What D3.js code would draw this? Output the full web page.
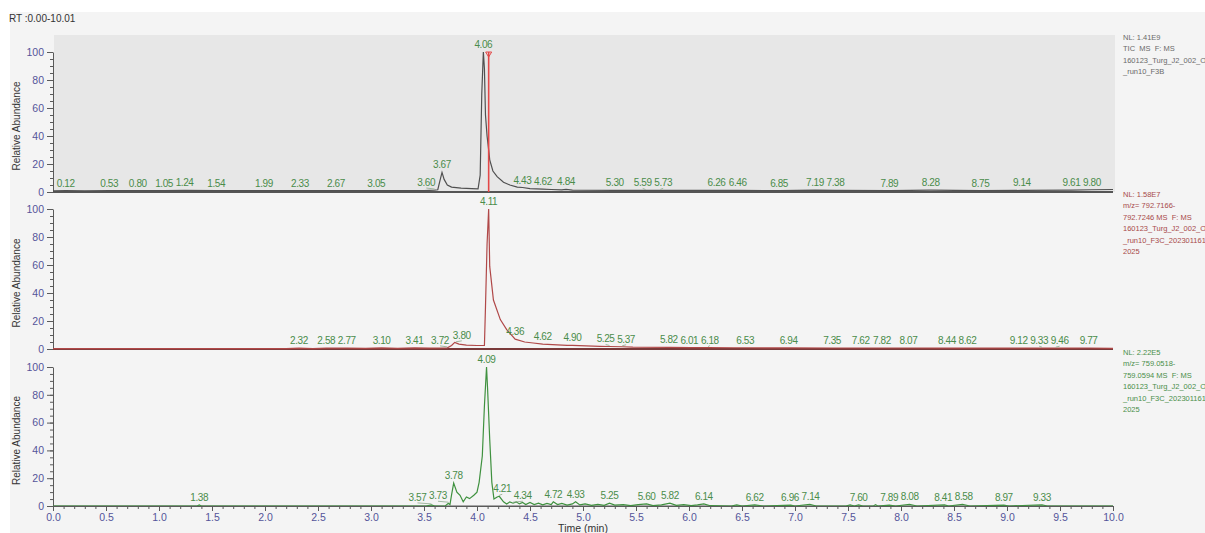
<!DOCTYPE html>
<html>
<head>
<meta charset="utf-8">
<script src="https://cdn.jsdelivr.net/npm/d3@7"></script>
<style>
  html, body { margin: 0; padding: 0; background: #ffffff; }
  svg { display: block; font-family: "Liberation Sans", Arial, sans-serif; }
</style>
</head>
<body>
<svg id="chart" width="1205" height="533"></svg>
<script>
// Retention-time range and axis ticks
const rtRange = [0, 10];
const xMajorTicks = d3.range(0, 10.001, 0.5);
const xMinorTicks = d3.range(0, 10.001, 0.1);
const yMajorTicks = [0, 20, 40, 60, 80, 100];
const yMinorTicks = d3.range(0, 100.001, 5);

// TIC trace: [retention time (min), relative abundance (%)]
const ticTrace = [
  [0.00, 0.8], [0.12, 1.0], [0.30, 0.8], [0.53, 1.0], [0.80, 1.0], [1.05, 1.0],
  [1.24, 1.2], [1.54, 1.0], [1.99, 1.0], [2.33, 1.0], [2.67, 1.0], [3.05, 1.0],
  [3.50, 1.0], [3.60, 1.4], [3.63, 1.6], [3.65, 8.0], [3.67, 14.0], [3.69, 9.0],
  [3.72, 5.0], [3.76, 3.5], [3.85, 2.8], [3.95, 2.4], [4.01, 2.2], [4.03, 12.0],
  [4.045, 70.0], [4.06, 100.0], [4.07, 88.0], [4.08, 55.0], [4.095, 40.0],
  [4.11, 30.0], [4.12, 23.0], [4.15, 15.0], [4.19, 11.0], [4.25, 7.0], [4.31, 5.0],
  [4.38, 3.5], [4.43, 3.2], [4.50, 2.4], [4.62, 2.0], [4.70, 1.8], [4.80, 1.5],
  [4.84, 1.9], [4.90, 1.3], [5.30, 1.2], [5.59, 1.1], [5.73, 1.2], [6.26, 1.1],
  [6.46, 1.1], [6.85, 1.0], [7.19, 1.3], [7.38, 1.1], [7.89, 1.0], [8.28, 1.3],
  [8.75, 1.0], [9.14, 1.1], [9.61, 1.3], [9.80, 1.6], [10.00, 1.8]
];
const ticPeaks = [0.12, 0.53, 0.80, 1.05, 1.24, 1.54, 1.99, 2.33, 2.67, 3.05, 3.60,
  3.67, 4.06, 4.43, 4.62, 4.84, 5.30, 5.59, 5.73, 6.26, 6.46, 6.85, 7.19, 7.38,
  7.89, 8.28, 8.75, 9.14, 9.61, 9.80];
const ticMarkerRt = 4.11;

// m/z 792.7166-792.7246 extracted ion chromatogram
const xic792Trace = [
  [0.00, 0.2], [2.20, 0.2], [2.32, 0.6], [2.45, 0.3], [2.58, 0.6], [2.77, 0.6],
  [2.95, 0.4], [3.10, 0.8], [3.25, 0.5], [3.41, 0.8], [3.55, 0.6], [3.72, 0.8],
  [3.76, 2.5], [3.79, 4.7], [3.83, 3.5], [3.90, 2.8], [4.00, 2.5], [4.07, 2.5],
  [4.08, 30.0], [4.095, 75.0], [4.11, 100.0], [4.12, 59.0], [4.155, 35.0],
  [4.22, 21.0], [4.28, 13.8], [4.36, 7.0], [4.45, 5.0], [4.53, 4.3], [4.62, 3.5],
  [4.85, 2.6], [4.90, 2.6], [5.16, 1.9], [5.25, 1.8], [5.37, 1.6], [5.47, 1.3],
  [5.82, 1.1], [6.01, 1.0], [6.18, 1.0], [6.42, 0.9], [6.53, 0.9], [6.94, 0.8],
  [7.35, 0.7], [7.62, 0.7], [7.82, 0.7], [8.07, 0.7], [8.44, 0.6], [8.62, 0.6],
  [9.12, 0.6], [9.33, 0.6], [9.46, 0.6], [9.77, 0.7], [10.00, 0.5]
];
const xic792Peaks = [2.32, 2.58, 2.77, 3.10, 3.41, 3.72, 3.80, 4.11, 4.36, 4.62,
  4.90, 5.25, 5.37, 5.82, 6.01, 6.18, 6.53, 6.94, 7.35, 7.62, 7.82, 8.07, 8.44,
  8.62, 9.12, 9.33, 9.46, 9.77];

// m/z 759.0518-759.0594 extracted ion chromatogram
const xic759Trace = [
  [0.00, 0.0], [1.36, 0.0], [1.38, 0.8], [1.40, 0.0], [3.52, 0.0], [3.57, 0.8],
  [3.60, 0.0], [3.70, 0.0], [3.73, 2.0], [3.745, 1.0], [3.76, 8.0], [3.78, 16.5],
  [3.81, 10.0], [3.84, 7.7], [3.87, 3.0],
  [3.90, 6.5], [3.93, 5.3], [3.97, 7.7], [4.00, 10.0], [4.02, 17.0], [4.05, 36.0],
  [4.07, 72.0], [4.09, 100.0], [4.10, 84.0], [4.12, 48.0], [4.14, 17.0],
  [4.16, 5.0], [4.19, 6.5], [4.21, 7.0], [4.25, 3.0], [4.28, 1.5], [4.31, 3.0],
  [4.34, 2.0], [4.37, 3.0], [4.40, 1.5], [4.43, 2.5], [4.46, 1.0], [4.50, 2.5],
  [4.54, 1.0], [4.58, 2.0], [4.62, 0.8], [4.66, 1.8], [4.70, 1.0], [4.72, 3.0],
  [4.76, 1.0], [4.80, 1.8], [4.85, 0.6], [4.90, 1.5], [4.93, 3.0], [4.97, 0.8],
  [5.02, 1.5], [5.08, 0.5], [5.14, 1.2], [5.20, 0.5], [5.25, 2.0], [5.30, 0.6],
  [5.38, 1.0], [5.45, 0.3], [5.52, 1.0], [5.60, 1.5], [5.66, 0.3], [5.74, 0.8],
  [5.82, 2.0], [5.88, 0.5], [5.95, 1.0], [6.02, 0.3], [6.08, 0.8], [6.14, 1.5],
  [6.20, 0.2], [6.40, 0.0], [6.45, 0.8], [6.50, 0.0], [6.62, 0.8], [6.70, 0.0],
  [6.96, 0.6], [7.00, 0.0], [7.14, 1.2], [7.20, 0.0], [7.48, 0.0], [7.52, 0.8],
  [7.56, 0.0], [7.60, 0.8], [7.64, 0.0], [7.74, 0.0], [7.76, 1.0], [7.78, 0.0],
  [7.89, 0.6], [7.95, 0.0], [8.08, 1.2], [8.15, 0.0], [8.41, 0.8], [8.45, 0.0],
  [8.58, 1.2], [8.65, 0.0], [8.97, 0.6], [9.02, 0.0], [9.33, 0.8], [9.38, 0.0],
  [10.00, 0.0]
];
const xic759Peaks = [1.38, 3.57, 3.73, 3.78, 4.09, 4.21, 4.34, 4.72, 4.93, 5.25,
  5.60, 5.82, 6.14, 6.62, 6.96, 7.14, 7.60, 7.89, 8.08, 8.41, 8.58, 8.97, 9.33];

// Header lines shown to the right of each trace
const ticInfo = ["NL: 1.41E9", "TIC  MS  F: MS", "160123_Turg_J2_002_O1", "_run10_F3B"];
const xic792Info = ["NL: 1.58E7", "m/z= 792.7166-", "792.7246 MS  F: MS",
  "160123_Turg_J2_002_O1", "_run10_F3C_20230116160", "2025"];
const xic759Info = ["NL: 2.22E5", "m/z= 759.0518-", "759.0594 MS  F: MS",
  "160123_Turg_J2_002_O1", "_run10_F3C_20230116160", "2025"];

const svg = d3.select("#chart");
const W = 1205, H = 533;

// page backdrop
svg.append("rect").attr("x", 10).attr("y", 12).attr("width", W - 10).attr("height", H - 12)
  .attr("fill", "#f4f4f4");

svg.append("text").attr("x", 9).attr("y", 22).attr("font-size", 10)
  .attr("fill", "#333").text("RT :0.00-10.01");

const x = d3.scaleLinear().domain(rtRange).range([53, 1113]);

const panels = [
  { trace: ticTrace, peaks: ticPeaks, info: ticInfo, top: 52, bottom: 192,
    color: "#505050", infoColor: "#6a6a6a", infoY: 37, shade: true, marker: ticMarkerRt },
  { trace: xic792Trace, peaks: xic792Peaks, info: xic792Info, top: 209, bottom: 349,
    color: "#b04848", infoColor: "#a84a4a", infoY: 194, shade: false },
  { trace: xic759Trace, peaks: xic759Peaks, info: xic759Info, top: 367, bottom: 506,
    color: "#3f913f", infoColor: "#4a8f4a", infoY: 352, shade: false }
];

function valueAt(trace, rt) {
  for (let i = 1; i < trace.length; i++) {
    const a = trace[i - 1], b = trace[i];
    if (rt >= a[0] && rt <= b[0]) {
      const t = b[0] === a[0] ? 0 : (rt - a[0]) / (b[0] - a[0]);
      return a[1] + t * (b[1] - a[1]);
    }
  }
  return 0;
}

// Spread labels sideways so neighbours on the same row do not collide,
// and keep each label clear of taller peaks rising through its row
function spreadLabels(items, width, gap, clearance, xmin, xmax) {
  items.forEach(d => { d.lx = d.px; });
  const half = width / 2;
  for (let iter = 0; iter < 400; iter++) {
    let moved = false;
    for (let i = 0; i < items.length; i++) {
      for (let j = i + 1; j < items.length; j++) {
        const a = items[i], b = items[j];
        if (Math.abs(a.ly - b.ly) >= 10) continue;
        const left = a.lx <= b.lx ? a : b, right = left === a ? b : a;
        const need = width + gap - (right.lx - left.lx);
        if (need > 0.05) {
          left.lx -= need / 2;
          right.lx += need / 2;
          moved = true;
        }
      }
    }
    items.forEach(a => {
      items.forEach(b => {
        if (a === b || b.py >= a.ly) return;
        if (Math.abs(a.lx - b.px) < half + clearance - 0.05) {
          a.lx = a.px < b.px ? b.px - half - clearance : b.px + half + clearance;
          moved = true;
        }
      });
    });
    items.forEach(d => { d.lx = Math.max(xmin, Math.min(xmax, d.lx)); });
    if (!moved) break;
  }
  return items;
}

const tickColor = "#55559a";
const axisColor = "#5a5a5a";
const labelColor = "#4a8c4a";
const labelWidth = 17.5;

panels.forEach((p, idx) => {
  const y = d3.scaleLinear().domain([0, 100]).range([p.bottom, p.top]);
  const g = svg.append("g");

  if (p.shade) {
    g.append("rect").attr("x", 54).attr("y", 35).attr("width", 1061)
      .attr("height", p.bottom - 35).attr("fill", "#e7e7e7");
  }

  // y axis: minor ticks, then labelled majors
  const minor = g.append("g").attr("transform", "translate(53,0)")
    .call(d3.axisLeft(y).tickValues(yMinorTicks).tickSize(3).tickSizeOuter(0).tickFormat(""));
  minor.select(".domain").attr("stroke", axisColor);
  minor.selectAll(".tick line").attr("stroke", axisColor);

  const major = g.append("g").attr("transform", "translate(53,0)")
    .call(d3.axisLeft(y).tickValues(yMajorTicks).tickSize(6).tickSizeOuter(0).tickPadding(3));
  major.select(".domain").remove();
  major.selectAll(".tick line").attr("stroke", axisColor);
  major.selectAll(".tick text").attr("fill", tickColor).attr("font-size", 10.5)
    .attr("font-family", "Liberation Sans, Arial, sans-serif");

  g.append("text")
    .attr("transform", `translate(20,${(p.top + p.bottom) / 2 + 4}) rotate(-90)`)
    .attr("text-anchor", "middle").attr("font-size", 10).attr("fill", "#333")
    .text("Relative Abundance");

  // baseline
  g.append("line").attr("x1", 53).attr("x2", 1113)
    .attr("y1", y(0)).attr("y2", y(0))
    .attr("stroke", idx === 2 ? axisColor : (idx === 0 ? "#555" : "#7a3a3a"))
    .attr("stroke-width", idx === 2 ? 1 : 2);

  // chromatogram trace
  const line = d3.line().x(d => x(d[0])).y(d => y(d[1]));
  g.append("path").datum(p.trace).attr("d", line)
    .attr("fill", "none").attr("stroke", p.color).attr("stroke-width", 1.2);

  // marker at the selected retention time
  if (p.marker !== undefined) {
    const mx = x(p.marker);
    g.append("line").attr("x1", mx).attr("x2", mx)
      .attr("y1", y(0)).attr("y2", y(100))
      .attr("stroke", "#e34848").attr("stroke-width", 1.6);
    g.append("path")
      .attr("d", `M${mx - 3},${y(100)} L${mx + 3},${y(100)} L${mx},${y(100) + 5} Z`)
      .attr("fill", "none").attr("stroke", "#e34848").attr("stroke-width", 1);
  }

  // peak retention-time labels, spread apart where they crowd
  const items = p.peaks.map(rt => {
    const py = y(valueAt(p.trace, rt));
    return { rt, px: x(rt), py, ly: py - 4 };
  });
  spreadLabels(items, labelWidth, 3, 7, 53 + labelWidth / 2, 1113);

  // leader strokes from shifted labels back to their peaks
  g.selectAll("line.leader").data(items.filter(d => Math.abs(d.lx - d.px) > 1.5)).join("line")
    .attr("class", "leader")
    .attr("x1", d => d.lx).attr("y1", d => d.ly + 2)
    .attr("x2", d => d.px).attr("y2", d => Math.min(d.py - 1, d.ly + 4))
    .attr("stroke", "#8aa88a").attr("stroke-width", 0.8);

  g.selectAll("text.peak").data(items).join("text")
    .attr("class", "peak")
    .attr("x", d => d.lx)
    .attr("y", d => d.ly)
    .attr("text-anchor", "middle").attr("font-size", 10)
    .attr("letter-spacing", "-0.4px").attr("fill", labelColor)
    .text(d => d.rt.toFixed(2));

  // header text
  g.selectAll("text.info").data(p.info).join("text")
    .attr("class", "info")
    .attr("x", 1123).attr("y", (d, i) => p.infoY + 2.5 + i * 11.5)
    .attr("font-size", 7.5).attr("fill", p.infoColor)
    .style("white-space", "pre")
    .text(d => d);
});

// shared time axis under the last trace
const yBase = 506;
const xMinor = svg.append("g").attr("transform", `translate(0,${yBase})`)
  .call(d3.axisBottom(x).tickValues(xMinorTicks).tickSize(3).tickSizeOuter(0).tickFormat(""));
xMinor.select(".domain").attr("stroke", axisColor);
xMinor.selectAll(".tick line").attr("stroke", axisColor);

const xMajor = svg.append("g").attr("transform", `translate(0,${yBase})`)
  .call(d3.axisBottom(x).tickValues(xMajorTicks).tickSize(5).tickSizeOuter(0)
    .tickPadding(3).tickFormat(d3.format(".1f")));
xMajor.select(".domain").remove();
xMajor.selectAll(".tick line").attr("stroke", axisColor);
xMajor.selectAll(".tick text").attr("fill", tickColor).attr("font-size", 10.5)
  .attr("font-family", "Liberation Sans, Arial, sans-serif");

svg.append("text").attr("x", 583).attr("y", 532).attr("text-anchor", "middle")
  .attr("font-size", 10.5).attr("fill", "#333").text("Time (min)");
</script>
</body>
</html>
